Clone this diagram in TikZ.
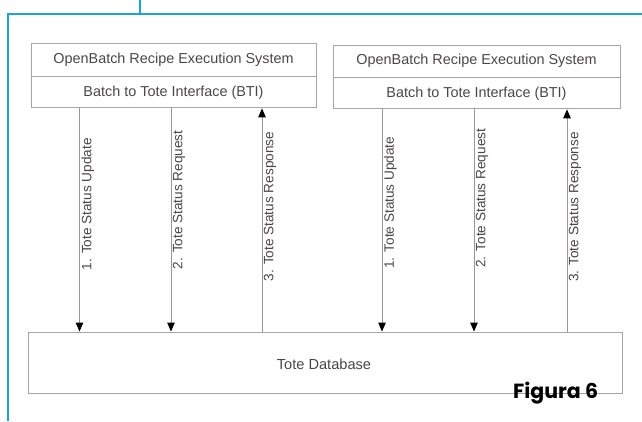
\documentclass[tikz,border=0pt]{standalone}
\usepackage{fontspec}
\setmainfont{Liberation Sans}
\newfontfamily\figfont{Poppins}
\usetikzlibrary{arrows.meta}
\definecolor{frameblue}{HTML}{1BA3DA}
\definecolor{boxgray}{HTML}{A8A4A4}
\definecolor{txtgray}{HTML}{4A4646}
\definecolor{linegray}{HTML}{9A9696}
\tikzset{
  boxpart/.style={draw=boxgray, line width=0.9bp, minimum height=32bp, inner sep=0pt,
    font=\fontsize{14.4bp}{16bp}\selectfont, text=txtgray},
  flow/.style={draw=linegray, line width=0.9bp, -{Triangle[length=9bp,width=7.5bp,fill=black,color=black]}},
  flowlabel/.style={rotate=90, anchor=north, inner sep=1.5bp, font=\fontsize{13.6bp}{16bp}\selectfont, text=txtgray},
  blueline/.style={draw=frameblue, line width=2bp}
}
\begin{document}
\begin{tikzpicture}[x=1bp,y=-1bp]
\useasboundingbox (0,0) rectangle (642,421);
% blue frame
\draw[blueline] (139.5,0) -- (139.5,13.5);
\draw[blueline] (642,13.5) -- (7.5,13.5) -- (7.5,421);
% left system
\node[boxpart, minimum width=285bp, minimum height=33bp] (os1) at (173.5,59.5) {OpenBatch Recipe Execution System};
\node[boxpart, minimum width=285bp, minimum height=31bp, anchor=north] (bti1) at (os1.south) {Batch to Tote Interface (BTI)};
% right system
\node[boxpart, minimum width=287bp, minimum height=32bp] (os2) at (476.5,61) {OpenBatch Recipe Execution System};
\node[boxpart, minimum width=287bp, minimum height=31bp, anchor=north] (bti2) at (os2.south) {Batch to Tote Interface (BTI)};
% database
\node[boxpart, minimum width=594bp, minimum height=61bp] (db) at (325,362.5) {};
\node[font=\fontsize{14.6bp}{16bp}\selectfont, text=txtgray] (dbt) at (324,364) {Tote Database};
% left arrows
\draw[flow] (bti1.south -| 79.5,0) -- node[flowlabel, pos=0.43] {1. Tote Status Update} (db.north -| 79.5,0);
\draw[flow] (bti1.south -| 171,0) -- node[flowlabel, pos=0.41] {2. Tote Status Request} (db.north -| 171,0);
\draw[flow] (db.north -| 262,0) -- node[flowlabel, pos=0.56] {3. Tote Status Response} (bti1.south -| 262,0);
% right arrows
\draw[flow] (bti2.south -| 382,0) -- node[flowlabel, pos=0.42] {1. Tote Status Update} (db.north -| 382,0);
\draw[flow] (bti2.south -| 474,0) -- node[flowlabel, pos=0.40] {2. Tote Status Request} (db.north -| 474,0);
\draw[flow] (db.north -| 567,0) -- node[flowlabel, pos=0.56] {3. Tote Status Response} (bti2.south -| 567,0);
% caption
\node[anchor=base west, inner sep=0pt, font=\figfont\bfseries\fontsize{20.5bp}{24bp}\selectfont, text=black] (fig) at (513,398) {Figura 6};
\end{tikzpicture}
\end{document}
